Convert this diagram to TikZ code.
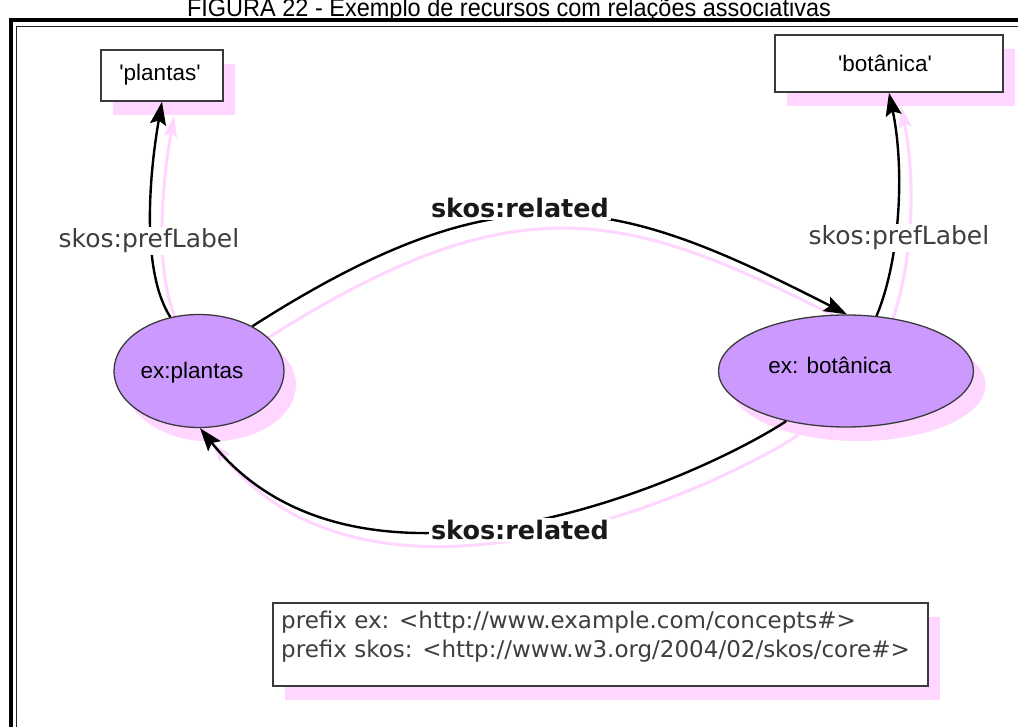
\documentclass[tikz,border=0pt]{standalone}
\usepackage{fontspec}
\setmainfont{Liberation Sans}
\newfontfamily\dvsans{DejaVu Sans}
\usetikzlibrary{arrows.meta,shapes.geometric,shadows}
\definecolor{conceptfill}{RGB}{204,153,255}
\definecolor{shadowpink}{RGB}{255,214,255}
\definecolor{edgegrey}{RGB}{58,58,58}
\definecolor{labelgrey}{RGB}{62,62,62}
\pgfdeclarelayer{paper}
\pgfdeclarelayer{background}
\pgfsetlayers{paper,background,main}

\tikzset{
  pinkshadow/.style={drop shadow={shadow xshift=12pt,shadow yshift=-14pt,fill=shadowpink,opacity=1}},
  literal/.style={draw=edgegrey, line width=1.5pt, fill=white, pinkshadow, inner sep=0pt,
                  font=\fontsize{22}{22}\selectfont},
  concept/.style={ellipse, draw=edgegrey, line width=1.3pt, fill=conceptfill, pinkshadow, inner sep=0pt},
  ctext/.style={font=\fontsize{22.5}{22.5}\selectfont, inner sep=0pt},
  link/.style={draw=black, line width=2.4pt, -{Stealth[length=23pt,width=16pt,inset=4pt]}},
  linkshadow/.style={draw=shadowpink, line width=3pt, -{Stealth[length=21pt,width=13pt,inset=4pt,fill=shadowpink]}},
  prop/.style={font=\dvsans\fontsize{25}{25}\selectfont, text=labelgrey, fill=white, inner sep=2pt},
  rel/.style={font=\dvsans\bfseries\fontsize{25.5}{25.5}\selectfont, text=black!90, fill=white, inner sep=2pt},
  prefixline/.style={font=\dvsans\fontsize{23}{23}\selectfont, text=labelgrey, inner sep=0pt, anchor=base west},
  frame/.style={draw=black, line width=4pt},
  innerframe/.style={draw=black!85, line width=1.3pt},
}

% the four properties, drawn once in black and once as a pink offset copy
\newcommand\skoslinks[1]{%
  \draw[#1] (exPl.118) .. controls (140,270) and (150,170) .. (plBox.south);
  \draw[#1] (exBo.61) .. controls (900,260) and (905,170) .. (boBox.south);
  \draw[#1] (exPl.40) .. controls (508,163) and (617,197) .. (exBo.89);
  \draw[#1] (exBo.220) .. controls (698,479) and (361,629) .. (exPl.-89);
}

\begin{document}
\begin{tikzpicture}[x=1pt,y=-1pt]
\useasboundingbox (0,0) rectangle (1018,727);
\begin{pgfonlayer}{paper}
  \fill[white] (0,0) rectangle (1018,727);
\end{pgfonlayer}

% caption and frame
\node[anchor=base, font=\fontsize{25}{25}\selectfont, inner sep=0pt, xscale=0.94] (caption) at (509,17)
  {FIGURA 22 - Exemplo de recursos com relações associativas};
\draw[frame] (11,740) -- (11,20.5) -- (1030,20.5);
\draw[innerframe] (16.7,740) -- (16.7,26.5) -- (1030,26.5);

% literals
\node[literal, minimum width=122, minimum height=51] (plBox) at (162,75.5) {};
\node[ctext] (plText) at (160,75) {\textquotesingle plantas\textquotesingle};
\node[literal, minimum width=228, minimum height=57] (boBox) at (889,63.5) {};
\node[ctext] (boText) at (885,63) {\textquotesingle botânica\textquotesingle};

% concepts
\node[concept, minimum width=170, minimum height=113] (exPl) at (199,371) {};
\node[ctext] (exPlText) at (192,373) {ex:plantas};
\node[concept, minimum width=255, minimum height=112] (exBo) at (846,371) {};
\node[ctext] (exBoText) at (830,365) {ex: botânica};

% prefix declarations
\node[draw=edgegrey, line width=1.5pt, fill=white, pinkshadow, minimum width=655, minimum height=83] (prefixBox) at (600.5,644.5) {};
\node[prefixline] (prefixEx) at (281,628) {prefix ex: <http://www.example.com/concepts\#>};
\node[prefixline] (prefixSkos) at (281,657) {prefix skos: <http://www.w3.org/2004/02/skos/core\#>};

% pink copies of the properties
\begin{pgfonlayer}{background}
  \begin{scope}[transform canvas={shift={(12pt,-14pt)}}]
    \skoslinks{linkshadow}
  \end{scope}
\end{pgfonlayer}

% properties
\skoslinks{link}

% property labels
\node[prop] (prefL) at (149,241) {skos:prefLabel};
\node[prop] (prefR) at (899,238) {skos:prefLabel};
\node[rel] (relTop) at (520,208) {skos:related};
\node[rel] (relBot) at (520,530) {skos:related};
\end{tikzpicture}
\end{document}
